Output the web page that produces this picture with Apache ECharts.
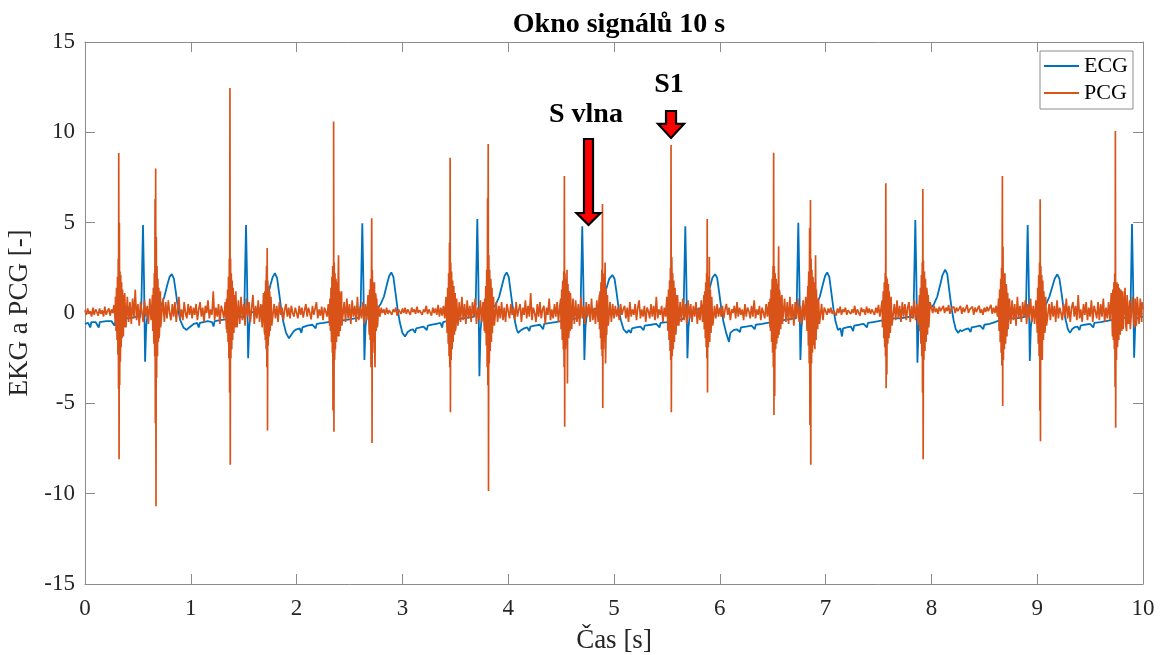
<!DOCTYPE html>
<html>
<head>
<meta charset="utf-8">
<script src="https://cdn.jsdelivr.net/npm/echarts/dist/echarts.min.js"></script>
<style>
html,body{margin:0;padding:0;background:#fff;}
#chart{width:1164px;height:655px;}
</style>
</head>
<body>
<div id="chart"></div>
<script>
// ---------------- DATA ----------------
const xTicks = [0,1,2,3,4,5,6,7,8,9,10];
const yTicks = [-15,-10,-5,0,5,10,15];
const seriesNames = ['ECG','PCG'];

// ECG trace: [time s, value] points, beat by beat
const ecgLead = [[0.00,-0.6],[0.03,-0.55],[0.05,-0.8],[0.06,-0.5],[0.10,-0.5],[0.13,-0.8],[0.14,-0.5],[0.20,-0.45],[0.25,-0.45],[0.28,-0.7],[0.29,-0.4],[0.33,-0.35],[0.40,-0.3],[0.45,-0.25],[0.49,-0.2],[0.52,-0.25]];
const ecgBeat1 = [[0.533,0.5],[0.548,4.87],[0.558,1.8],[0.568,-2.7],[0.578,-0.8],[0.593,0.0],[0.62,0.1],[0.66,0.2],[0.70,0.3],[0.72,0.4],[0.75,0.9],[0.78,1.6],[0.80,2.0],[0.82,2.15],[0.84,1.9],[0.86,1.1],[0.88,0.2],[0.90,-0.4],[0.93,-0.8],[0.961,-0.94],[0.985,-0.8],
  [1.00,-0.75],[1.03,-0.6],[1.06,-0.55],[1.075,-0.8],[1.085,-0.55],[1.12,-0.5],[1.16,-0.45],[1.20,-0.5],[1.215,-0.75],[1.225,-0.45],[1.28,-0.4],[1.33,-0.35],[1.38,-0.3],[1.43,-0.25],[1.47,-0.2],[1.50,-0.25]];
const ecgBeat2 = [[1.507,0.5],[1.522,4.87],[1.532,1.8],[1.542,-2.5],[1.552,-0.8],[1.567,0.0],[1.60,0.1],[1.64,0.2],[1.67,0.3],[1.695,0.5],[1.725,0.9],[1.755,1.6],[1.775,2.0],[1.795,2.2],[1.815,1.95],[1.835,1.1],[1.855,0.2],[1.875,-0.5],[1.90,-1.1],[1.928,-1.4],[1.95,-1.2],[1.975,-1.0],
  [2.00,-0.9],[2.03,-0.85],[2.045,-1.1],[2.055,-0.8],[2.10,-0.7],[2.15,-0.65],[2.18,-0.85],[2.19,-0.6],[2.25,-0.55],[2.30,-0.5],[2.35,-0.45],[2.40,-0.45],[2.45,-0.4],[2.50,-0.35],[2.55,-0.3],[2.59,-0.25]];
const ecgBeat3 = [[2.606,0.5],[2.621,4.96],[2.631,1.8],[2.641,-2.6],[2.651,-0.8],[2.666,0.0],[2.70,0.1],[2.74,0.2],[2.77,0.3],[2.795,0.5],[2.825,0.9],[2.855,1.6],[2.875,2.05],[2.895,2.25],[2.915,2.0],[2.935,1.1],[2.955,0.2],[2.975,-0.5],[3.00,-1.1],[3.025,-1.3],[3.05,-1.05],[3.075,-0.95],
  [3.10,-0.9],[3.12,-1.1],[3.13,-0.85],[3.17,-0.8],[3.20,-0.75],[3.23,-0.95],[3.24,-0.7],[3.28,-0.65],[3.32,-0.6],[3.36,-0.55],[3.375,-0.8],[3.385,-0.5],[3.42,-0.45],[3.47,-0.4],[3.52,-0.35],[3.57,-0.3],[3.62,-0.25],[3.68,-0.2]];
const ecgBeat4 = [[3.693,0.5],[3.708,5.2],[3.718,1.9],[3.728,-3.5],[3.738,-1.0],[3.753,0.0],[3.79,0.1],[3.83,0.2],[3.86,0.3],[3.885,0.5],[3.915,0.9],[3.945,1.6],[3.965,2.05],[3.985,2.25],[4.005,2.0],[4.025,1.1],[4.045,0.2],[4.065,-0.5],[4.08,-0.9],[4.095,-1.1],[4.12,-0.95],[4.15,-0.85],
  [4.18,-0.8],[4.20,-1.0],[4.21,-0.75],[4.25,-0.7],[4.30,-0.65],[4.33,-0.9],[4.34,-0.6],[4.40,-0.55],[4.45,-0.5],[4.50,-0.45],[4.55,-0.4],[4.60,-0.35],[4.65,-0.3],[4.68,-0.25]];
const ecgBeat5 = [[4.685,0.5],[4.700,4.8],[4.710,1.8],[4.720,-2.6],[4.730,-0.8],[4.745,0.0],[4.78,0.1],[4.82,0.2],[4.85,0.3],[4.875,0.5],[4.905,0.9],[4.935,1.5],[4.955,1.9],[4.985,2.1],[5.005,1.9],[5.025,1.1],[5.045,0.2],[5.065,-0.4],[5.09,-0.9],[5.12,-1.1],[5.14,-0.95],[5.16,-1.1],[5.17,-0.85],
  [5.21,-0.8],[5.25,-0.75],[5.28,-0.95],[5.29,-0.7],[5.35,-0.65],[5.40,-0.6],[5.43,-0.8],[5.44,-0.55],[5.50,-0.5],[5.55,-0.45],[5.60,-0.4],[5.64,-0.35],[5.66,-0.3]];
const ecgBeat6 = [[5.659,0.5],[5.674,4.8],[5.684,1.8],[5.694,-2.5],[5.704,-0.8],[5.719,0.0],[5.75,0.1],[5.79,0.2],[5.83,0.3],[5.85,0.5],[5.88,0.9],[5.91,1.5],[5.93,1.95],[5.955,2.15],[5.975,1.95],[5.995,1.1],[6.015,0.2],[6.035,-0.5],[6.06,-1.1],[6.087,-1.6],[6.10,-1.1],[6.13,-0.95],
  [6.16,-0.9],[6.19,-1.05],[6.20,-0.8],[6.25,-0.75],[6.30,-0.7],[6.33,-0.9],[6.34,-0.65],[6.40,-0.6],[6.45,-0.55],[6.50,-0.5],[6.55,-0.45],[6.60,-0.4],[6.65,-0.35],[6.70,-0.3],[6.72,-0.3]];
const ecgBeat7 = [[6.727,0.5],[6.742,5.0],[6.752,1.8],[6.762,-2.6],[6.772,-0.8],[6.787,0.0],[6.82,0.1],[6.86,0.2],[6.89,0.3],[6.915,0.5],[6.945,0.9],[6.975,1.6],[6.995,2.05],[7.015,2.25],[7.035,2.0],[7.055,1.1],[7.075,0.2],[7.095,-0.5],[7.117,-0.94],[7.14,-0.85],[7.155,-1.3],[7.165,-0.85],
  [7.20,-0.8],[7.24,-0.75],[7.26,-1.0],[7.27,-0.7],[7.32,-0.65],[7.36,-0.6],[7.39,-0.8],[7.40,-0.55],[7.45,-0.5],[7.50,-0.45],[7.55,-0.4],[7.60,-0.35],[7.65,-0.3],[7.70,-0.3],[7.75,-0.25],[7.80,-0.2],[7.83,-0.25]];
const ecgBeat8 = [[7.833,0.5],[7.848,5.15],[7.858,1.9],[7.868,-2.75],[7.878,-0.9],[7.893,0.0],[7.93,0.1],[7.97,0.2],[8.00,0.3],[8.025,0.5],[8.055,0.9],[8.085,1.6],[8.105,2.1],[8.13,2.4],[8.15,2.15],[8.17,1.2],[8.19,0.3],[8.21,-0.4],[8.23,-0.9],[8.254,-1.1],[8.27,-0.95],[8.29,-1.0],
  [8.32,-0.9],[8.35,-0.85],[8.37,-1.05],[8.38,-0.8],[8.42,-0.75],[8.46,-0.7],[8.49,-0.9],[8.50,-0.65],[8.55,-0.6],[8.60,-0.5],[8.65,-0.4],[8.70,-0.35],[8.75,-0.3],[8.80,-0.3],[8.85,-0.25],[8.89,-0.2]];
const ecgBeat9 = [[8.895,0.5],[8.910,4.87],[8.920,1.8],[8.930,-2.66],[8.940,-0.8],[8.955,0.0],[8.99,0.1],[9.03,0.2],[9.06,0.3],[9.085,0.5],[9.115,0.9],[9.145,1.5],[9.165,1.9],[9.19,2.14],[9.21,1.9],[9.23,1.1],[9.25,0.2],[9.27,-0.4],[9.29,-0.9],[9.31,-1.1],[9.33,-0.9],[9.35,-0.8],
  [9.38,-0.75],[9.40,-0.95],[9.41,-0.7],[9.45,-0.65],[9.50,-0.6],[9.53,-0.8],[9.54,-0.55],[9.60,-0.5],[9.65,-0.45],[9.70,-0.4],[9.75,-0.35],[9.80,-0.3],[9.85,-0.25],[9.88,-0.2]];
const ecgBeat10 = [[9.883,0.5],[9.896,4.93],[9.906,1.8],[9.916,-2.47],[9.926,-0.8],[9.94,-0.3],[9.97,-0.2],[10.0,-0.2]];

// PCG baseline noise, one value every 0.0125 s (80 per second), one array per second
const pcgNoiseStep = 0.0125;
const pcgNoise0 = [0.15,-0.1,0.25,-0.05,0.1,-0.2,0.3,-0.1,0.2,0.05,-0.15,0.25,-0.05,0.15,-0.2,0.35,-0.1,0.1,0.25,-0.15,0.2,0.0,0.45,
  -0.6,0.9,-1.2,1.4,-1.0,1.6,-1.3,1.1,
  -0.8,0.9,-0.5,0.6,-0.6,0.8,-0.3,1.3,-0.4,0.5,-0.7,0.6,0.1,-0.5,0.7,-0.2,0.4,-0.6,0.8,-0.4,
  1.0,-1.3,1.5,-1.1,1.7,-1.4,1.2,-0.9,
  0.8,-0.5,0.6,-0.3,0.7,0.0,-0.4,0.5,-0.2,0.6,-0.5,0.3,0.9,-0.3,0.2,-0.4,0.6,0.0,-0.3,0.5,-0.1];
const pcgNoise1 = [0.4,-0.3,0.3,-0.1,0.5,-0.4,0.2,0.6,-0.2,0.3,-0.5,0.4,0.0,0.7,-0.3,0.2,-0.1,1.2,-0.4,0.3,-0.2,0.5,-0.6,0.4,0.1,-0.3,0.6,
  -0.9,1.3,-1.5,1.1,-1.6,1.4,-1.0,1.2,
  -0.8,0.7,-0.6,0.9,-0.4,0.5,-0.7,0.8,-0.2,0.6,-0.5,0.3,1.0,-0.6,0.4,-0.3,0.7,-0.5,0.5,-0.8,
  1.1,-1.2,1.4,-1.5,1.2,-1.0,0.9,
  -0.6,0.5,-0.3,0.4,-0.5,0.6,-0.1,0.3,-0.4,0.2,0.5,-0.2,0.3,-0.3,0.4,0.0,-0.2,0.3];
const pcgNoise2 = [0.2,-0.3,0.4,-0.1,0.3,-0.25,0.15,0.5,-0.2,0.3,0.0,-0.35,0.4,-0.1,0.25,0.6,-0.3,0.2,-0.15,0.35,-0.4,0.3,0.1,-0.2,0.5,
  -0.7,1.1,-1.4,1.3,-1.6,1.5,-1.2,1.0,-0.9,1.2,
  -0.7,0.6,-0.5,0.8,-0.3,0.5,-0.6,0.7,-0.2,0.4,-0.5,0.9,-0.4,0.3,-0.3,0.6,-0.6,0.5,-0.4,
  1.0,-1.2,1.5,-1.3,1.1,-1.4,0.9,-0.8,
  0.4,-0.2,0.3,0.0,0.2,-0.1,0.3,-0.05,0.15,0.25,-0.1,0.2,0.05,0.3,-0.15,0.2,0.1,-0.05];
const pcgNoise3 = [0.25,0.0,0.3,-0.05,0.2,0.1,-0.1,0.3,0.05,0.2,-0.05,0.35,0.0,0.15,0.25,-0.1,0.2,0.05,0.4,-0.05,0.2,0.1,-0.15,0.3,0.0,0.25,-0.1,0.45,-0.2,0.3,-0.15,0.4,-0.3,
  0.9,-1.2,1.4,-1.5,1.3,-1.1,1.5,-1.0,
  0.8,-0.7,0.6,-0.5,0.9,-0.4,0.5,-0.6,0.7,-0.3,0.4,-0.5,0.6,-0.2,0.8,-0.6,0.3,-0.4,0.7,-0.5,0.6,
  -1.0,1.3,-1.6,1.4,-1.2,1.5,-1.1,0.9,
  -0.7,0.6,-0.5,0.4,-0.3,0.6,-0.4,0.3,-0.5,0.5];
const pcgNoise4 = [0.4,-0.3,0.5,-0.1,0.3,-0.4,0.6,-0.2,0.2,0.5,-0.5,0.3,-0.1,0.7,-0.3,0.4,-0.2,1.1,-0.4,0.3,0.0,-0.5,0.5,-0.2,0.6,-0.3,0.2,0.4,-0.6,0.3,-0.1,0.8,-0.4,0.2,-0.3,0.5,-0.2,0.6,-0.5,0.4,
  -0.9,1.2,-1.4,1.5,-1.2,1.3,-1.0,1.1,-0.9,
  0.8,-0.6,0.7,-0.5,0.5,-0.7,0.9,-0.3,0.4,-0.6,0.6,-0.2,0.5,-0.5,0.8,-0.4,0.3,-0.6,0.7,-0.5,
  1.0,-1.3,1.4,-1.2,1.5,-1.1,1.0,-0.8,
  0.6,-0.5,0.5];
const pcgNoise5 = [-0.3,0.4,-0.2,0.3,-0.4,0.5,-0.1,0.2,0.4,-0.3,0.3,-0.5,0.6,-0.2,0.2,-0.1,0.5,-0.4,0.3,0.7,-0.3,0.2,-0.2,0.4,-0.5,0.3,0.1,-0.3,0.5,-0.2,0.4,-0.4,0.9,-0.3,0.2,-0.1,0.4,-0.5,0.3,-0.2,
  0.9,-1.1,1.4,-1.3,1.5,-1.2,1.1,-0.9,1.0,
  -0.7,0.6,-0.5,0.8,-0.4,0.5,-0.6,0.7,-0.3,0.5,-0.5,0.4,-0.2,0.6,-0.6,0.3,-0.4,0.7,-0.5,
  1.0,-1.2,1.3,-1.0,1.2,-0.9,0.8,
  -0.5,0.4,-0.3,0.5,-0.2];
const pcgNoise6 = [0.3,-0.2,0.4,-0.3,0.2,0.5,-0.1,0.3,-0.4,0.2,0.0,0.4,-0.3,0.6,-0.2,0.3,-0.1,0.2,-0.4,0.5,-0.2,0.3,0.1,-0.3,0.4,-0.2,0.7,-0.3,0.2,-0.1,0.4,-0.4,0.3,0.0,-0.3,0.5,-0.2,0.6,
  -0.8,1.1,-1.3,1.5,-1.4,1.2,-1.1,1.3,-0.9,1.0,
  -0.7,0.8,-0.5,0.6,-0.6,0.9,-0.4,0.5,-0.7,0.6,-0.3,0.8,-0.5,0.4,-0.6,0.7,-0.4,0.9,
  -1.0,1.3,-1.5,1.4,-1.6,1.2,-1.1,1.3,-0.9,0.8,
  -0.6,0.5,-0.4,0.3];
const pcgNoise7 = [0.2,-0.1,0.25,0.0,0.3,-0.05,0.15,0.1,-0.15,0.25,0.0,0.35,-0.1,0.2,0.05,0.3,-0.1,0.15,0.25,-0.05,0.2,0.0,0.4,-0.1,0.2,0.1,-0.15,0.3,0.05,0.2,-0.1,0.35,0.0,0.25,-0.05,0.2,0.1,-0.1,0.3,0.0,0.45,-0.2,0.3,
  -0.8,1.0,-1.2,1.3,-1.1,1.2,-0.9,1.0,
  -0.6,0.5,-0.4,0.7,-0.3,0.4,-0.5,0.6,-0.2,0.5,-0.4,0.3,0.6,-0.5,0.4,-0.3,0.7,-0.4,0.5,-0.6,
  1.0,-1.2,1.4,-1.3,1.1,-1.2,0.9,-0.8,
  0.6];
const pcgNoise8 = [0.3,0.0,0.4,0.05,0.25,-0.05,0.35,0.1,0.2,0.4,0.0,0.3,0.1,0.45,-0.05,0.25,0.15,0.35,0.0,0.3,0.1,0.2,0.4,-0.05,0.3,0.05,0.25,0.45,0.0,0.2,0.1,0.35,-0.1,0.3,0.05,0.25,0.4,0.0,0.2,-0.1,0.3,0.05,0.35,0.1,0.2,0.45,-0.05,0.3,0.0,0.4,-0.2,
  0.9,-1.1,1.3,-1.4,1.2,-1.0,1.1,-0.9,
  0.8,-0.6,0.7,-0.4,0.5,-0.7,0.9,-0.3,0.4,-0.5,0.6,-0.2,0.7,-0.6,0.5,-0.3,0.8,-0.5,0.4,-0.6,0.7];
const pcgNoise9 = [-0.9,1.2,-1.4,1.3,-1.1,1.2,-0.9,1.0,
  -0.6,0.5,-0.4,0.6,-0.2,0.4,-0.5,0.7,-0.3,0.3,0.0,-0.4,0.5,-0.2,0.8,-0.3,0.4,-0.5,0.3,0.6,-0.2,0.4,-0.4,1.0,-0.3,0.2,-0.5,0.5,-0.1,0.6,-0.4,0.3,-0.2,0.7,-0.5,0.4,0.1,-0.3,0.6,-0.4,0.5,-0.2,0.8,-0.5,0.3,-0.3,0.6,-0.4,
  1.1,-1.3,1.5,-1.4,1.2,-1.3,1.4,-1.1,1.0,
  -0.9,0.8,-0.7,1.0,-0.6,0.7,-0.8,0.9,-0.5,0.8,-0.7,0.6,-0.6,0.8,-0.5];

// PCG heart-sound bursts (S1 then S2 of each beat): [time s, value]
const pcgBeat1 = [[0.288,0.9],[0.293,-1.0],[0.298,1.4],[0.303,-1.5],[0.307,2.0],[0.311,-2.3],[0.314,3.0],[0.317,-4.2],[0.319,8.85],[0.322,-8.1],[0.325,5.0],[0.328,-4.0],[0.331,2.3],[0.334,-2.7],[0.338,2.1],[0.342,-1.9],[0.346,1.7],[0.350,-1.4],[0.355,1.3],[0.360,-1.0],[0.366,1.0],[0.372,-0.8],
  [0.636,0.8],[0.641,-1.0],[0.646,1.4],[0.651,-1.7],[0.655,2.2],[0.659,-2.4],[0.662,6.3],[0.665,-6.1],[0.668,8.0],[0.671,-10.7],[0.674,4.2],[0.677,-3.6],[0.681,2.6],[0.685,-2.4],[0.689,1.9],[0.693,-1.6],[0.698,1.4],[0.703,-1.2],[0.709,1.0],[0.715,-0.8]];
const pcgBeat2 = [[1.338,0.8],[1.343,-1.1],[1.348,1.3],[1.352,-1.6],[1.356,2.0],[1.360,-2.5],[1.364,3.0],[1.367,-4.4],[1.370,12.45],[1.373,-8.4],[1.376,3.0],[1.379,-2.5],[1.383,2.2],[1.387,-2.0],[1.391,1.8],[1.396,-1.5],[1.401,1.4],[1.407,-1.1],[1.413,1.0],[1.420,-0.8],
  [1.690,0.7],[1.695,-1.0],[1.700,1.2],[1.704,-1.5],[1.708,1.8],[1.712,-2.0],[1.716,2.6],[1.719,-3.0],[1.722,3.6],[1.725,-6.5],[1.728,1.8],[1.732,-1.8],[1.736,1.5],[1.741,-1.3],[1.746,1.2],[1.752,-1.0],[1.758,0.9],[1.765,-0.7]];
const pcgBeat3 = [[2.315,0.8],[2.320,-1.0],[2.325,1.4],[2.330,-1.6],[2.334,2.0],[2.338,-2.2],[2.341,2.6],[2.344,-5.4],[2.350,10.6],[2.353,-6.57],[2.356,2.8],[2.359,-2.6],[2.363,2.2],[2.367,-2.0],[2.372,1.9],[2.377,-1.6],[2.382,1.7],[2.387,-1.3],[2.392,1.5],[2.396,3.2],[2.400,-1.3],[2.406,1.2],[2.412,-1.0],[2.420,0.9],[2.428,-0.7],
  [2.680,0.8],[2.685,-1.0],[2.690,1.3],[2.695,-1.5],[2.699,1.9],[2.703,-3.0],[2.710,5.24],[2.713,-7.2],[2.716,2.4],[2.720,-2.2],[2.724,1.7],[2.728,-1.6],[2.732,1.4],[2.736,1.7],[2.741,-3.0],[2.746,1.1],[2.752,-1.0],[2.758,0.8],[2.766,-0.6]];
const pcgBeat4 = [[3.418,0.8],[3.423,-1.1],[3.428,1.4],[3.433,-1.7],[3.437,2.2],[3.441,-2.4],[3.445,3.9],[3.448,-3.0],[3.451,8.6],[3.454,-5.5],[3.457,2.8],[3.461,-2.6],[3.465,2.3],[3.470,-2.0],[3.475,1.8],[3.480,-1.6],[3.486,1.5],[3.492,-1.2],[3.499,1.1],[3.506,-0.8],
  [3.778,0.8],[3.783,-1.1],[3.788,1.5],[3.793,-1.8],[3.797,2.4],[3.801,-3.0],[3.805,6.35],[3.808,-4.0],[3.811,9.35],[3.814,-9.85],[3.817,3.2],[3.821,-2.8],[3.825,2.4],[3.830,-2.1],[3.835,1.9],[3.841,-1.6],[3.847,1.4],[3.854,-1.1],[3.861,0.9],[3.869,-0.7]];
const pcgBeat5 = [[4.496,0.8],[4.501,-1.0],[4.506,1.3],[4.511,-1.5],[4.516,1.8],[4.521,-2.0],[4.525,2.3],[4.528,-3.0],[4.531,7.58],[4.534,-6.3],[4.537,2.2],[4.541,-2.0],[4.546,1.9],[4.551,-1.8],[4.556,2.4],[4.560,-3.9],[4.565,1.6],[4.571,-1.4],[4.577,1.2],[4.584,-1.0],[4.591,0.8],[4.599,-0.6],
  [4.858,0.7],[4.863,-0.9],[4.868,1.2],[4.873,-1.4],[4.877,1.7],[4.881,-2.0],[4.885,2.4],[4.888,-2.4],[4.891,6.03],[4.894,-5.26],[4.897,2.2],[4.901,-2.0],[4.906,1.8],[4.911,-1.6],[4.916,2.8],[4.920,-2.8],[4.925,1.4],[4.931,-1.2],[4.938,1.0],[4.946,-0.7]];
const pcgBeat6 = [[5.505,0.8],[5.510,-1.0],[5.515,1.3],[5.520,-1.5],[5.525,1.8],[5.530,-2.1],[5.533,2.5],[5.536,-2.6],[5.539,9.3],[5.542,-5.5],[5.546,3.1],[5.550,-2.4],[5.555,2.2],[5.560,-2.0],[5.565,1.8],[5.571,-1.6],[5.577,1.4],[5.584,-1.2],[5.591,1.0],[5.599,-0.7],
  [5.848,0.7],[5.853,-0.9],[5.858,1.2],[5.863,-1.4],[5.867,1.7],[5.871,-1.9],[5.875,2.2],[5.878,-2.5],[5.881,5.2],[5.884,-4.4],[5.887,2.0],[5.891,-1.9],[5.896,1.7],[5.901,3.1],[5.905,-1.6],[5.911,1.3],[5.917,-1.1],[5.924,0.9],[5.932,-0.7]];
const pcgBeat7 = [[6.475,0.8],[6.480,-1.0],[6.485,1.3],[6.490,-1.6],[6.495,1.9],[6.499,-2.2],[6.503,2.6],[6.506,-3.0],[6.509,8.87],[6.512,-5.64],[6.515,2.6],[6.519,-4.6],[6.523,2.2],[6.528,-2.0],[6.533,1.9],[6.538,-1.7],[6.543,1.6],[6.549,-1.4],[6.556,3.7],[6.560,-1.2],[6.567,1.1],[6.575,-0.9],[6.583,0.8],[6.592,-0.6],
  [6.822,0.8],[6.827,-1.1],[6.832,1.5],[6.837,-1.8],[6.841,2.3],[6.845,-2.8],[6.849,4.7],[6.852,-6.2],[6.857,6.25],[6.860,-8.4],[6.863,3.0],[6.867,-2.8],[6.871,2.4],[6.876,-2.2],[6.881,2.0],[6.887,-1.8],[6.893,1.7],[6.899,-2.0],[6.905,3.2],[6.910,-1.5],[6.917,1.2],[6.925,-1.0],[6.933,0.8],[6.942,-0.6]];
const pcgBeat8 = [[7.535,0.7],[7.540,-0.9],[7.545,1.2],[7.550,-1.4],[7.555,1.7],[7.559,-1.9],[7.563,2.2],[7.566,-2.4],[7.569,7.18],[7.572,-4.17],[7.575,2.0],[7.579,-3.4],[7.583,1.9],[7.588,-1.7],[7.593,1.6],[7.599,-1.4],[7.605,1.3],[7.612,-1.1],[7.619,0.9],[7.627,-0.7],
  [7.886,0.8],[7.891,-1.0],[7.896,1.4],[7.901,-1.7],[7.905,2.1],[7.909,-2.4],[7.913,2.8],[7.916,-4.4],[7.919,6.86],[7.922,-8.1],[7.925,2.9],[7.929,-2.6],[7.934,2.3],[7.939,-2.1],[7.944,1.9],[7.950,-1.6],[7.956,1.4],[7.963,-1.2],[7.970,1.0],[7.978,-0.7]];
const pcgBeat9 = [[8.635,0.8],[8.640,-1.0],[8.645,1.3],[8.650,-1.6],[8.655,1.9],[8.659,-2.2],[8.663,2.5],[8.666,-2.9],[8.671,7.58],[8.674,-5.15],[8.677,3.67],[8.681,-2.6],[8.685,2.2],[8.690,-2.0],[8.695,2.2],[8.701,-1.7],[8.707,1.6],[8.714,-1.3],[8.721,1.1],[8.729,-0.8],
  [8.995,0.8],[9.000,-1.1],[9.005,1.4],[9.010,-1.7],[9.014,2.1],[9.018,-2.4],[9.022,2.8],[9.025,-5.4],[9.028,6.3],[9.031,-7.1],[9.034,2.6],[9.038,-2.4],[9.043,2.1],[9.048,-2.6],[9.053,1.8],[9.059,-1.5],[9.065,1.3],[9.072,-1.1],[9.080,0.9],[9.088,-0.7]];
const pcgBeat10 = [[9.705,0.8],[9.710,-1.0],[9.715,1.3],[9.720,-1.5],[9.725,1.7],[9.729,-2.0],[9.733,2.2],[9.736,-4.1],[9.739,10.07],[9.742,-6.35],[9.745,1.6],[9.749,-2.6],[9.754,1.7],[9.759,-1.9],[9.765,1.6],[9.771,-1.5],[9.777,1.5],[9.784,-1.2],[9.791,1.3],[9.799,-1.0],[9.808,1.2],[9.817,-0.9],[9.830,1.4],[9.845,-1.0],[9.860,1.1],[9.880,-0.9],[9.900,1.0],[9.920,-0.8],[9.945,0.9],[9.970,-0.7],[9.990,0.6],[10.0,0.2]];

// annotation anchors in data coordinates
const annotationLabels = [
  {text:'S vlna', t:4.735, v:11.0},
  {text:'S1', t:5.52, v:12.65}
];
const annotationArrows = [
  {t:4.759, top:9.63, tip:4.87},
  {t:5.539, top:11.18, tip:9.69}
];

// ---------------- BUILD ----------------
const ecgData = [].concat(ecgLead, ecgBeat1, ecgBeat2, ecgBeat3, ecgBeat4, ecgBeat5, ecgBeat6, ecgBeat7, ecgBeat8, ecgBeat9, ecgBeat10);
const noiseSeconds = [pcgNoise0, pcgNoise1, pcgNoise2, pcgNoise3, pcgNoise4, pcgNoise5, pcgNoise6, pcgNoise7, pcgNoise8, pcgNoise9];
let pcgData = [];
noiseSeconds.forEach((arr, s)=>{
  arr.forEach((v, i)=>{ pcgData.push([+(s + i*pcgNoiseStep).toFixed(4), v]); });
});
pcgData = pcgData.concat(pcgBeat1, pcgBeat2, pcgBeat3, pcgBeat4, pcgBeat5, pcgBeat6, pcgBeat7, pcgBeat8, pcgBeat9, pcgBeat10)
  .sort((a,b)=>a[0]-b[0]);

const FONT = '"Liberation Serif","Times New Roman",serif';
const AXIS_COLOR = '#8c8c8c';
const TEXT_COLOR = '#262626';
const ECG_COLOR = '#0072BD';
const PCG_COLOR = '#D95319';

const chart = echarts.init(document.getElementById('chart'), null, {renderer:'canvas'});

function axisX(pos, showLabels){
  return {
    type:'value', position:pos, min:xTicks[0], max:xTicks[xTicks.length-1], interval:1,
    axisLine:{show:true, onZero:false, lineStyle:{color:AXIS_COLOR, width:1}},
    axisTick:{show:true, inside:true, length:10, lineStyle:{color:AXIS_COLOR, width:1}},
    axisLabel:{show:showLabels, margin:13, fontFamily:FONT, fontSize:23, color:TEXT_COLOR},
    splitLine:{show:false},
    name: showLabels ? 'Čas [s]' : '', nameLocation:'middle', nameGap:43,
    nameTextStyle:{fontFamily:FONT, fontSize:27, color:TEXT_COLOR}
  };
}
function axisY(pos, showLabels){
  return {
    type:'value', position:pos, min:yTicks[0], max:yTicks[yTicks.length-1], interval:5,
    axisLine:{show:true, onZero:false, lineStyle:{color:AXIS_COLOR, width:1}},
    axisTick:{show:true, inside:true, length:10, lineStyle:{color:AXIS_COLOR, width:1}},
    axisLabel:{show:showLabels, margin:10, fontFamily:FONT, fontSize:23, color:TEXT_COLOR},
    splitLine:{show:false},
    name: showLabels ? 'EKG a PCG [-]' : '', nameLocation:'middle', nameGap:40, nameRotate:90,
    nameTextStyle:{fontFamily:FONT, fontSize:27, color:TEXT_COLOR}
  };
}

chart.setOption({
  animation:false,
  backgroundColor:'#ffffff',
  title:{
    text:'Okno signálů 10 s', left:'52.75%', textAlign:'center', top:6,
    textStyle:{fontFamily:FONT, fontSize:28, fontWeight:'bold', color:'#000'}
  },
  legend:{
    data:seriesNames, orient:'vertical', right:31, top:51,
    icon:'rect', itemWidth:35, itemHeight:2,
    backgroundColor:'#fff', borderColor:AXIS_COLOR, borderWidth:1, borderRadius:0,
    padding:[4,5,5,4], itemGap:5,
    textStyle:{fontFamily:FONT, fontSize:22, color:'#000'}
  },
  grid:{left:85, right:21, top:42, bottom:71, containLabel:false, outerBoundsMode:'none'},
  xAxis:[axisX('bottom', true), axisX('top', false)],
  yAxis:[axisY('left', true), axisY('right', false)],
  series:[
    {name:seriesNames[0], type:'line', data:ecgData, xAxisIndex:0, yAxisIndex:0,
     symbol:'none', smooth:false, lineStyle:{color:ECG_COLOR, width:1.8}, itemStyle:{color:ECG_COLOR}},
    {name:seriesNames[1], type:'line', data:pcgData, xAxisIndex:0, yAxisIndex:0,
     symbol:'none', smooth:false, lineStyle:{color:PCG_COLOR, width:1.7}, itemStyle:{color:PCG_COLOR}}
  ]
});

// annotations: arrows + bold labels, positioned from data coordinates
const arrowSizes = [{sw:4.5, hw:12, hl:12}, {sw:5, hw:13, hl:14}];
const graphics = [];
annotationArrows.forEach((a, i)=>{
  const pTop = chart.convertToPixel({xAxisIndex:0, yAxisIndex:0}, [a.t, a.top]);
  const pTip = chart.convertToPixel({xAxisIndex:0, yAxisIndex:0}, [a.t, a.tip]);
  const s = arrowSizes[i];
  const cx = pTop[0], ty = pTop[1], tipY = pTip[1];
  graphics.push({
    type:'polygon', z:100,
    shape:{points:[[cx-s.sw,ty],[cx+s.sw,ty],[cx+s.sw,tipY-s.hl],[cx+s.hw,tipY-s.hl],[cx,tipY],[cx-s.hw,tipY-s.hl],[cx-s.sw,tipY-s.hl]]},
    style:{fill:'#ff0000', stroke:'#000', lineWidth:2.2, lineJoin:'miter'}
  });
});
annotationLabels.forEach(l=>{
  const p = chart.convertToPixel({xAxisIndex:0, yAxisIndex:0}, [l.t, l.v]);
  graphics.push({
    type:'text', z:100, x:p[0], y:p[1],
    style:{text:l.text, fill:'#000', font:'bold 28px ' + FONT, textAlign:'center', textVerticalAlign:'middle'}
  });
});
chart.setOption({graphic:graphics});
</script>
</body>
</html>
